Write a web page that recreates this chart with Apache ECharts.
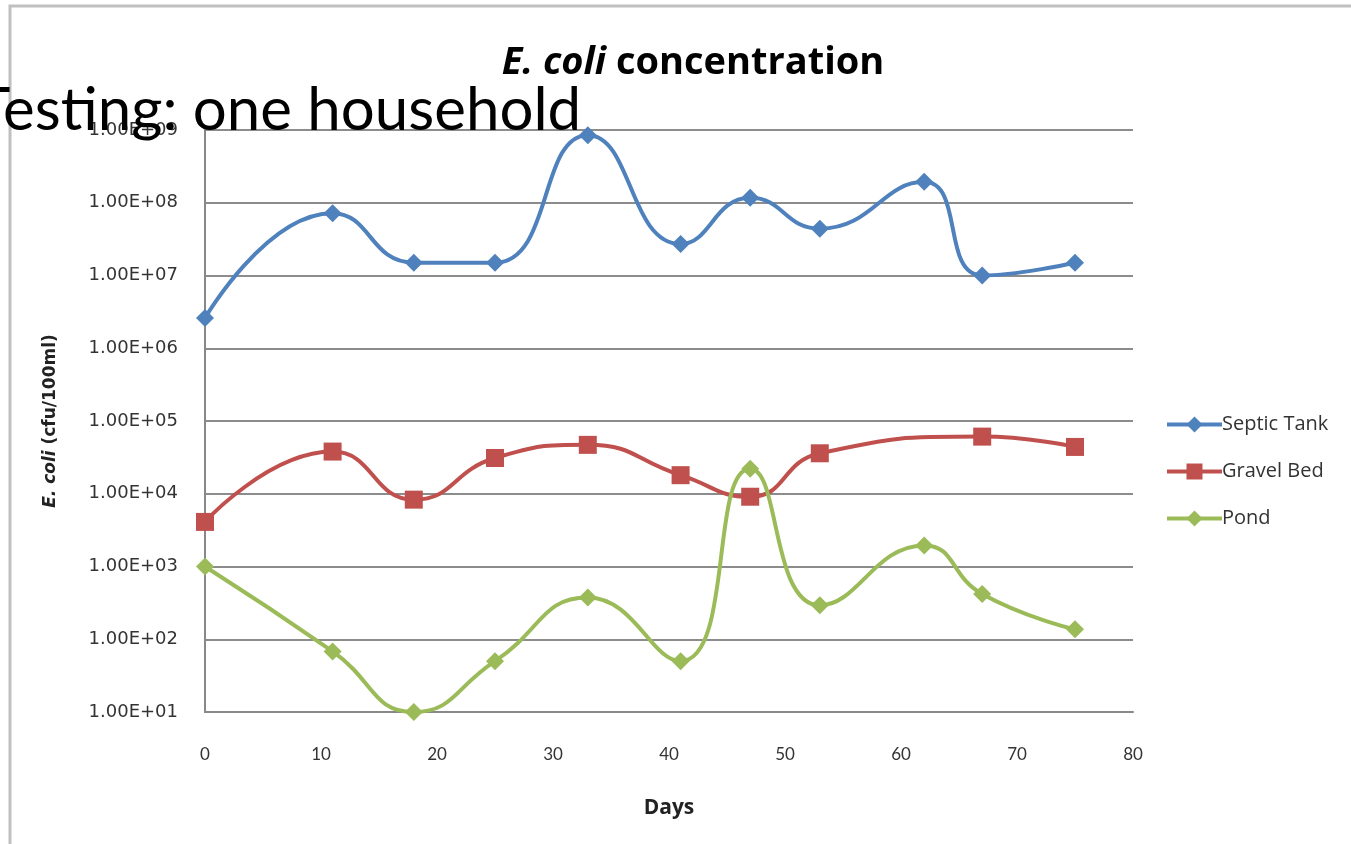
<!DOCTYPE html>
<html>
<head>
<meta charset="utf-8">
<script src="https://cdn.jsdelivr.net/npm/echarts@6/dist/echarts.min.js"></script>
<style>
html,body{margin:0;padding:0;background:#fff;}
#chart{width:1351px;height:844px;}
</style>
</head>
<body>
<div id="chart"></div>
<script>
var days = [0, 11, 18, 25, 33, 41, 47, 53, 62, 67, 75];
var septicTank = [2.6e6, 7.2e7, 1.5e7, 1.5e7, 8.5e8, 2.7e7, 1.17e8, 4.4e7, 1.94e8, 1.0e7, 1.5e7];
var gravelDays = [0, 11, 18, 25, 33, 41, 47, 53, 67, 75];
var gravelBed = [4.1e3, 3.8e4, 8.3e3, 3.1e4, 4.7e4, 1.8e4, 9.1e3, 3.6e4, 6.1e4, 4.4e4];
var pond = [1000, 68, 10, 50, 375, 50, 2.2e4, 293, 1950, 420, 137];
var seriesNames = ['Septic Tank', 'Gravel Bed', 'Pond'];
var colors = ['#4F81BD', '#C0504D', '#9BBB59'];

function pairs(xs, ys){ return xs.map(function(x,i){ return [x, ys[i]]; }); }
function fmtExp(v){
  var e = Math.round(Math.log10(v));
  var s = e < 0 ? '-' : '+';
  var a = Math.abs(e);
  return '1.00E' + s + (a < 10 ? '0' + a : a);
}
var font = 'Lato, "Open Sans", sans-serif';
var wide = '"Open Sans", sans-serif';
var dejavu = '"DejaVu Sans", sans-serif';
var chart = echarts.init(document.getElementById('chart'));
chart.setOption({
  animation: false,
  color: colors,
  textStyle: {fontFamily: font},
  title: {
    text: '{i|E. coli }{b|concentration}',
    left: 688, top: 39, textAlign: 'center',
    textStyle: {rich: {
      i: {fontFamily: wide, fontSize: 38, fontWeight: 'bold', fontStyle: 'italic', color: '#000'},
      b: {fontFamily: wide, fontSize: 38, fontWeight: 'bold', color: '#000'}
    }}
  },
  legend: {
    orient: 'vertical', left: 1160, top: 409, itemGap: 26,
    itemWidth: 55, itemHeight: 20,
    lineStyle: {width: 4},
    textStyle: {fontSize: 20, lineHeight: 21, color: '#333', fontFamily: wide, padding: [0,0,0,-5]},
    data: seriesNames
  },
  grid: {left: 205, right: 218, top: 130, bottom: 132},
  xAxis: {
    type: 'value', min: 0, max: 80, interval: 10,
    name: 'Days', nameLocation: 'middle', nameGap: 86,
    nameTextStyle: {fontSize: 21, fontWeight: 'bold', color: '#222', fontFamily: wide},
    axisLine: {lineStyle: {color: '#888', width: 2}},
    axisTick: {show: false},
    splitLine: {show: false},
    axisLabel: {fontSize: 17, color: '#333', margin: 34, fontFamily: font}
  },
  yAxis: {
    type: 'log', logBase: 10, min: 10, max: 1e9, interval: 1,
    name: '{i|E. coli }{b|(cfu/100ml)}', nameLocation: 'middle', nameGap: 146, nameRotate: 90,
    nameTextStyle: {rich: {
      i: {fontSize: 17, fontWeight: 'bold', fontStyle: 'italic', color: '#222', fontFamily: dejavu},
      b: {fontSize: 17, fontWeight: 'bold', color: '#222', fontFamily: dejavu}
    }},
    axisLine: {show: true, lineStyle: {color: '#888', width: 2}},
    axisTick: {show: false},
    splitLine: {show: true, lineStyle: {color: '#8c8c8c', width: 2}},
    axisLabel: {fontSize: 18, color: '#333', margin: 27, fontFamily: dejavu, formatter: fmtExp}
  },
  graphic: [
    {type: 'polyline', z: 100, shape: {points: [[1351, 6], [10, 6], [10, 844]]},
     style: {stroke: '#c0c0c0', lineWidth: 3, fill: null}},
    {type: 'text', z: 200, left: -25, top: 81,
     style: {text: 'Testing: one household', fontSize: 60, fontFamily: font, fill: '#000'}}
  ],
  series: [
    {name: seriesNames[0], type: 'line', smooth: 0.5, data: pairs(days, septicTank),
     symbol: 'diamond', symbolSize: 18, lineStyle: {width: 4}, itemStyle: {color: colors[0]}},
    {name: seriesNames[1], type: 'line', smooth: 0.5, data: pairs(gravelDays, gravelBed),
     symbol: 'rect', symbolSize: 18, lineStyle: {width: 4}, itemStyle: {color: colors[1]}},
    {name: seriesNames[2], type: 'line', smooth: 0.5, data: pairs(days, pond),
     symbol: 'diamond', symbolSize: 18, lineStyle: {width: 4}, itemStyle: {color: colors[2]}}
  ]
});
</script>
</body>
</html>
